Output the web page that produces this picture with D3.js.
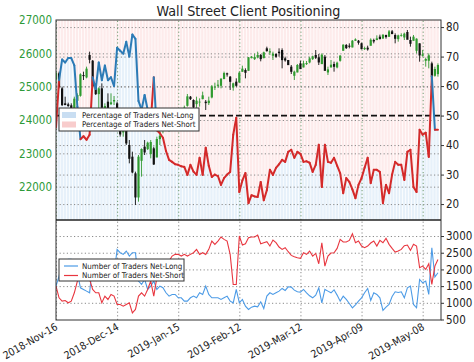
<!DOCTYPE html>
<html>
<head>
<meta charset="utf-8">
<script src="https://cdn.jsdelivr.net/npm/d3@7"></script>
<style>
    body { margin: 0; background: #fff; }
    svg text { font-family: "DejaVu Sans Condensed", "DejaVu Sans", sans-serif; }
</style>
</head>
<body>
<svg id="drawing_region"></svg>
<script>
// trading-day index 0..125, one label every 20 days
const tick_index = [0, 20, 40, 60, 80, 100, 120];
const tick_labels = ["2018-Nov-16", "2018-Dec-14", "2019-Jan-15", "2019-Feb-12",
                     "2019-Mar-12", "2019-Apr-09", "2019-May-08"];

const price_open = [
    25250,25400,24950,24500,24470,24440,24350,24600,24750,25350,
    25300,25950,25780,25000,24800,24950,24350,24550,24500,24580,
    24500,24050,23650,23700,23250,22900,22400,21700,22800,23200,
    23150,23000,23150,22900,23450,23700,23850,23800,23950,23900,
    23950,24100,24150,24450,24700,24600,24500,24550,24650,24550,
    24530,24700,25000,25050,25050,25250,25400,25300,25000,25150,
    25150,25470,25500,25500,25880,25850,25900,25950,25880,26150,
    26050,25950,25980,26050,26100,25850,25800,25600,25350,25450,
    25700,25600,25700,25750,25850,25950,25880,25700,25900,25450,
    25600,25680,25600,25800,26100,26250,26230,26200,26400,26380,
    26300,26150,26170,26250,26400,26420,26500,26470,26550,26520,
    26660,26550,26450,26550,26500,26640,26400,26400,26100,26300,
    25950,25800,25800,25700,25350,25400];
const price_high = [
    25450,25450,25000,24700,24520,24500,24700,24800,25400,25450,
    25600,26050,25800,25100,24980,25100,24500,24800,24800,24720,
    24550,24150,23800,24050,23400,23050,22450,22950,23150,23400,
    23350,23400,23200,23500,23700,23850,24000,24010,24010,23950,
    24150,24300,24430,24780,24720,24620,24700,24650,24850,24600,
    24700,25050,25120,25200,25250,25450,25420,25320,25120,25250,
    25460,25630,25550,25890,25920,25990,26050,25980,26050,26200,
    26150,26050,26000,26150,26150,25900,25800,25650,25480,25680,
    25780,25780,25770,25900,25930,26100,25980,26000,25950,25600,
    25800,25750,25750,25950,26270,26280,26300,26400,26450,26400,
    26320,26200,26230,26450,26440,26540,26560,26570,26560,26700,
    26700,26600,26560,26600,26620,26700,26500,26550,26450,26300,
    26100,25870,26000,25750,25600,25700];
const price_low = [
    25100,24950,24420,24450,24400,24270,24330,24450,24700,25200,
    25250,25700,24950,24750,24250,24300,23880,24250,24450,24450,
    24050,23500,23500,23250,22700,22400,21450,21550,22300,22950,
    23100,22850,22650,22880,23250,23600,23750,23650,23850,23750,
    23900,24050,24020,24400,24600,24250,24320,24400,24620,24300,
    24450,24650,24900,24970,24950,25230,25300,24900,24880,25000,
    25120,25450,25250,25480,25850,25800,25850,25760,25850,26050,
    25950,25800,25870,25900,25550,25750,25650,25380,25200,25430,
    25540,25580,25650,25700,25800,25830,25650,25680,25480,25350,
    25580,25450,25550,25750,26080,26130,26150,26180,26370,26260,
    26120,26100,26080,26240,26300,26400,26420,26430,26440,26500,
    26590,26300,26350,26500,26400,26430,26200,26380,26000,25750,
    25900,25600,25550,25300,25300,25300];
const price_close = [
    25410,25020,24470,24470,24440,24290,24640,24750,25370,25340,
    25540,25830,25030,24800,24950,24390,24420,24370,24530,24600,
    24100,23590,23680,23320,22860,22450,21700,22900,23130,23050,
    23320,23340,22690,23430,23530,23790,23880,24000,23995,23910,
    24065,24210,24370,24710,24650,24400,24580,24550,24740,24530,
    24580,25010,25000,25060,25240,25410,25390,25170,25100,25050,
    25420,25540,25440,25880,25900,25890,25950,25850,26030,26090,
    26060,25990,25920,26030,25820,25810,25670,25470,25450,25650,
    25550,25700,25710,25850,25910,25890,25750,25960,25500,25520,
    25660,25620,25720,25930,26260,26180,26220,26380,26420,26340,
    26150,26160,26140,26410,26380,26450,26450,26560,26510,26660,
    26600,26460,26540,26550,26590,26430,26310,26500,26440,25960,
    25970,25830,25940,25320,25530,25650];

// percentage of traders net-long
const pct_long = [
    46,62,69,68,69.5,69.5,67,53,42,43,
    41.8,43.5,63,59,68,62,67,62,63,60,
    73,72,71,75,70,77.5,76,55,52,57,
    52,47.5,63,45,44,42.5,38,35,34.3,33.5,
    33.3,32.8,32.6,29.9,33.3,31,29.9,35.7,29.9,39.1,
    33,29.2,30,29.5,26.5,28.8,30,30.9,43.5,49.3,
    24.1,28,30.5,20.3,23,22.6,22.4,27.5,21.3,24.7,
    31.6,29.9,32.3,33.5,35,34.3,37.7,38.4,35.7,37.7,
    37,34.3,34.5,34,30.9,33.3,40.1,25.8,40.1,34.3,
    34,35.7,33,30.5,23.7,28.8,27.5,25,22,26.5,
    28.8,32.3,35.7,27.1,31.6,31.6,30.9,20.3,26.5,23.7,
    30,34.3,33.3,33.3,28.2,37.7,38.4,25.8,24.1,45.2,
    43.5,44.2,36,63.3,45.2,45.2];

const traders_long = [
    1500,1800,2200,2250,2300,2300,2250,1900,1450,1400,
    1350,1300,2200,1900,2300,1700,2250,1800,2100,1850,
    2600,2500,2450,2550,2400,2500,2500,1650,1550,1700,
    1400,1500,1650,1400,1500,1450,1300,1200,1250,1250,
    1150,1150,1050,1050,1150,1200,1150,1300,1250,1500,
    1250,1150,1150,1150,1100,1150,1200,1050,1000,1400,
    1000,1100,900,800,870,900,880,1030,830,1200,
    1300,1250,1300,1350,1430,1370,1480,1470,1380,1330,
    1320,1400,1300,1210,1150,1230,1450,1000,1400,1350,
    1300,1390,1230,1050,1200,1100,980,850,940,1050,
    1150,1300,1430,1070,1300,1250,1150,770,870,950,
    1190,1330,1310,1330,1150,1450,1500,950,850,1700,
    1600,1650,1250,2650,1770,1900];
const traders_short = [
    1500,1150,1050,1070,1000,1050,1300,1650,1900,1850,
    1900,1700,1400,1300,1300,1000,1200,1100,1250,1200,
    950,950,900,950,1000,700,800,1200,1300,1200,
    1400,1650,1200,1750,1900,2000,2150,2250,2400,2450,
    2450,2400,2450,2400,2450,2500,2600,2450,2500,2450,
    2600,2850,2750,2850,2970,2900,2850,2450,1550,1550,
    3000,2730,2770,2950,2970,2970,3030,2770,2800,2830,
    2700,2880,2800,2670,2600,2650,2530,2420,2380,2350,
    2330,2500,2450,2550,2400,2480,2170,2800,2100,2400,
    2490,2500,2630,2900,2820,2820,2870,3070,2800,2850,
    2700,2650,2700,2790,2850,2700,2870,2800,2930,2750,
    2630,2520,2550,2600,2710,2730,2570,2750,2700,2050,
    2100,2000,2170,1550,2100,2300];

const price_ticks = [22000, 23000, 24000, 25000, 26000, 27000];
const pct_ticks = [20, 30, 40, 50, 60, 70, 80];
const count_ticks = [500, 1000, 1500, 2000, 2500, 3000];

const config = {
    width: 474, height: 362,
    left: 56, right: 441,
    top: 20, split: 220, bottom: 320
};

const svg = d3.select('#drawing_region')
    .attr('width', config.width)
    .attr('height', config.height);

const xscale = d3.scaleLinear().domain([0, 126]).range([config.left, config.right]);
const price_scale = d3.scaleLinear().domain([21000, 27000]).range([config.split, config.top]);
const pct_scale = d3.scaleLinear().domain([14.6, 82.4]).range([config.split, config.top]);
const count_scale = d3.scaleLinear().domain([485, 3480]).range([config.bottom, config.split]);

const inner_width = config.right - config.left;
const step = xscale(1) - xscale(0);

svg.append('clipPath').attr('id', 'clip_top')
    .append('rect')
    .attr('x', config.left).attr('y', config.top)
    .attr('width', inner_width).attr('height', config.split - config.top);
svg.append('clipPath').attr('id', 'clip_bottom')
    .append('rect')
    .attr('x', config.left).attr('y', config.split)
    .attr('width', inner_width).attr('height', config.bottom - config.split);

const top_panel = svg.append('g').attr('clip-path', 'url(#clip_top)');
const bottom_panel = svg.append('g').attr('clip-path', 'url(#clip_bottom)');

// sentiment fill, one stripe per day
top_panel.selectAll('rect.fill_long')
    .data(pct_long)
    .join('rect')
    .attr('x', (d, i) => xscale(i) - step / 2)
    .attr('width', step - 0.7)
    .attr('y', d => pct_scale(d))
    .attr('height', d => config.split - pct_scale(d))
    .attr('fill', '#e7f1fa');

top_panel.selectAll('rect.fill_short')
    .data(pct_long)
    .join('rect')
    .attr('x', (d, i) => xscale(i) - step / 2)
    .attr('width', step - 0.7)
    .attr('y', config.top)
    .attr('height', d => pct_scale(d) - config.top)
    .attr('fill', '#fdebeb');

// grids
function grid(g, axis) {
    g.call(axis);
    g.select('.domain').remove();
    g.selectAll('.tick line')
        .attr('stroke', '#8a8a8a')
        .attr('stroke-width', 1)
        .attr('stroke-dasharray', '1.2,2.4');
}

top_panel.append('g')
    .attr('transform', `translate(${config.left},0)`)
    .call(grid, d3.axisLeft(price_scale).tickValues([22000, 23000, 24000, 25000, 26000])
        .tickSize(-inner_width).tickFormat(''));

top_panel.append('g')
    .attr('transform', `translate(${config.left},0)`)
    .call(grid, d3.axisLeft(pct_scale).tickValues([20, 30, 40, 60, 70, 80])
        .tickSize(-inner_width).tickFormat(''));

top_panel.append('g')
    .attr('transform', `translate(0,${config.split})`)
    .call(grid, d3.axisBottom(xscale).tickValues(tick_index)
        .tickSize(-(config.split - config.top)).tickFormat(''))
    .selectAll('.tick line').attr('stroke', '#6f9a6f');

bottom_panel.append('g')
    .attr('transform', `translate(${config.left},0)`)
    .call(grid, d3.axisLeft(count_scale).tickValues([1000, 1500, 2000, 2500, 3000])
        .tickSize(-inner_width).tickFormat(''));

bottom_panel.append('g')
    .attr('transform', `translate(0,${config.bottom})`)
    .call(grid, d3.axisBottom(xscale).tickValues(tick_index)
        .tickSize(-(config.bottom - config.split)).tickFormat(''));

// 50% line
top_panel.append('line')
    .attr('x1', config.left).attr('x2', config.right)
    .attr('y1', pct_scale(50)).attr('y2', pct_scale(50))
    .attr('stroke', '#111').attr('stroke-width', 1.6)
    .attr('stroke-dasharray', '6,3');

// price bars
const bars = top_panel.selectAll('g.bar')
    .data(price_close)
    .join('g')
    .attr('stroke', (d, i) => d >= price_open[i] ? '#2f9a2f' : '#111');

bars.append('line')
    .attr('x1', (d, i) => xscale(i)).attr('x2', (d, i) => xscale(i))
    .attr('y1', (d, i) => price_scale(price_high[i]))
    .attr('y2', (d, i) => price_scale(price_low[i]))
    .attr('stroke-width', 0.9);

bars.append('line')
    .attr('x1', (d, i) => xscale(i)).attr('x2', (d, i) => xscale(i))
    .attr('y1', (d, i) => price_scale(Math.max(d, price_open[i])))
    .attr('y2', (d, i) => price_scale(Math.min(d, price_open[i])) + 0.8)
    .attr('stroke-width', 2.2);

// net-long percentage, blue while long, red while short
top_panel.selectAll('line.pct')
    .data(pct_long.slice(0, -1))
    .join('line')
    .attr('x1', (d, i) => xscale(i)).attr('y1', d => pct_scale(d))
    .attr('x2', (d, i) => xscale(i + 1)).attr('y2', (d, i) => pct_scale(pct_long[i + 1]))
    .attr('stroke', d => d > 50 ? '#2c7bb6' : '#d42a2a')
    .attr('stroke-width', 2)
    .attr('stroke-linecap', 'round');

// trader counts
const count_line = d3.line()
    .x((d, i) => xscale(i))
    .y(d => count_scale(d));

bottom_panel.append('path')
    .attr('d', count_line(traders_long))
    .attr('fill', 'none').attr('stroke', '#4c9be6').attr('stroke-width', 1.1);

bottom_panel.append('path')
    .attr('d', count_line(traders_short))
    .attr('fill', 'none').attr('stroke', '#e8363f').attr('stroke-width', 1.1);

// frames
svg.append('rect')
    .attr('x', config.left).attr('y', config.top)
    .attr('width', inner_width).attr('height', config.bottom - config.top)
    .attr('fill', 'none').attr('stroke', '#333').attr('stroke-width', 1);
svg.append('line')
    .attr('x1', config.left).attr('x2', config.right)
    .attr('y1', config.split).attr('y2', config.split)
    .attr('stroke', '#222').attr('stroke-width', 1.4);

// axes
function style_axis(g, color) {
    g.select('.domain').remove();
    g.selectAll('.tick text')
        .attr('fill', color)
        .style('font-size', '11.5px');
    g.selectAll('.tick line').attr('stroke', '#333');
}

svg.append('g')
    .attr('transform', `translate(${config.left},0)`)
    .call(d3.axisLeft(price_scale).tickValues(price_ticks).tickFormat(d3.format('d'))
        .tickSize(0).tickPadding(4))
    .call(style_axis, '#2e9a3a');

svg.append('g')
    .attr('transform', `translate(${config.right},0)`)
    .call(d3.axisRight(pct_scale).tickValues(pct_ticks).tickFormat(d3.format('d'))
        .tickSize(3).tickPadding(2))
    .call(style_axis, '#222');

svg.append('g')
    .attr('transform', `translate(${config.right},0)`)
    .call(d3.axisRight(count_scale).tickValues(count_ticks).tickFormat(d3.format('d'))
        .tickSize(3).tickPadding(2))
    .call(style_axis, '#222');

const xaxis_group = svg.append('g')
    .attr('transform', `translate(0,${config.bottom})`)
    .call(d3.axisBottom(xscale).tickValues(tick_index)
        .tickFormat((d, i) => tick_labels[i]).tickSize(0).tickPadding(0))
    .call(style_axis, '#222');

xaxis_group.selectAll('.tick text')
    .attr('text-anchor', 'end')
    .attr('dy', 0)
    .attr('transform', 'translate(2,9) rotate(-30)')
    .style('font-size', '10.5px');

// title
svg.append('text')
    .attr('x', (config.left + config.right) / 2)
    .attr('y', 15.5)
    .attr('text-anchor', 'middle')
    .attr('fill', '#222')
    .style('font-size', '14.2px')
    .text('Wall Street Client Positioning');

// legends
function legend(x, y, w, h, entries, draw_key) {
    const g = svg.append('g').attr('transform', `translate(${x},${y})`);
    g.append('rect')
        .attr('width', w).attr('height', h)
        .attr('fill', '#fff').attr('stroke', '#333').attr('stroke-width', 1);
    entries.forEach((e, k) => {
        const row = g.append('g').attr('transform', `translate(0,${7 + k * 9.5})`);
        draw_key(row, e);
        row.append('text')
            .attr('x', 23).attr('y', 0).attr('dy', '0.35em')
            .attr('fill', '#222')
            .style('font-size', '7.9px')
            .text(e.label);
    });
}

legend(59, 108, 140, 23,
    [{label: 'Percentage of Traders Net-Long', color: '#c9def2'},
     {label: 'Percentage of Traders Net-Short', color: '#f8cccc'}],
    (row, e) => row.append('rect')
        .attr('x', 3).attr('y', -3).attr('width', 14).attr('height', 6)
        .attr('fill', e.color));

legend(59, 259, 125, 22,
    [{label: 'Number of Traders Net-Long', color: '#4c9be6'},
     {label: 'Number of Traders Net-Short', color: '#e8363f'}],
    (row, e) => row.append('line')
        .attr('x1', 5).attr('x2', 19)
        .attr('stroke', e.color).attr('stroke-width', 1.2));
</script>
</body>
</html>
